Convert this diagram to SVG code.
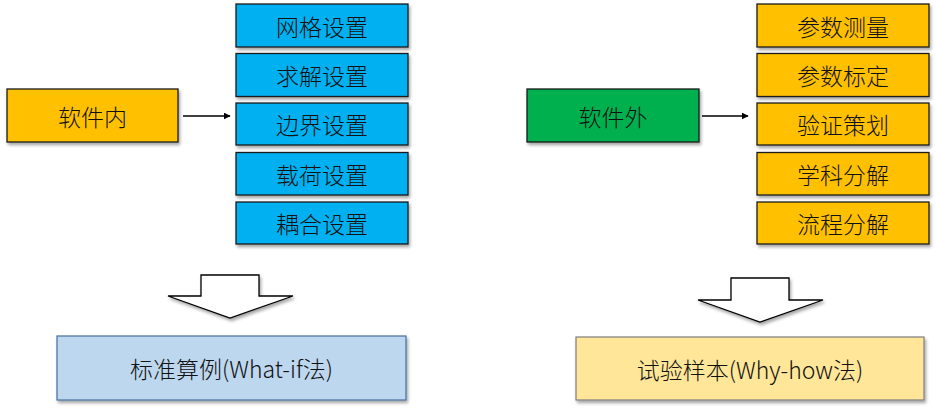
<svg xmlns="http://www.w3.org/2000/svg" width="936" height="411" viewBox="0 0 936 411">
<defs>
<filter id="sh" x="-10%" y="-10%" width="130%" height="140%">
<feDropShadow dx="1.5" dy="2.5" stdDeviation="1.5" flood-color="#000" flood-opacity="0.35"/>
</filter>
<marker id="ah" viewBox="0 0 10 10" refX="9" refY="5" markerWidth="7" markerHeight="7" orient="auto" markerUnits="userSpaceOnUse">
<path d="M0,0 L10,5 L0,10 z" fill="#000"/>
</marker>
<style>
.box{stroke:#1a1a1a;stroke-width:1.3;filter:url(#sh)}
.blue{fill:#00B0F0}
.orange{fill:#FFC000}
.green{fill:#00B050}
.t{font-family:"Noto Sans CJK SC","Liberation Sans",sans-serif;font-size:23px;font-weight:300;fill:#111;text-anchor:middle;dominant-baseline:central}
.bt{font-family:"Noto Sans CJK SC","Liberation Sans",sans-serif;font-size:23px;font-weight:300;fill:#111;text-anchor:middle;dominant-baseline:central}
.con{stroke:#000;stroke-width:1.6;fill:none}
.blk{fill:#fff;stroke:#000;stroke-width:1.3;filter:url(#sh)}
</style>
</defs>
<g id="n-inner"><rect class="box orange" x="7" y="89" width="171" height="53"/><text class="t" x="92.5" y="115.5">软件内</text></g>
<g id="n-mesh"><rect class="box blue" x="236" y="4" width="172" height="43"/><text class="t" x="322" y="25.5">网格设置</text></g>
<g id="n-solve"><rect class="box blue" x="236" y="53.5" width="172" height="43"/><text class="t" x="322" y="75">求解设置</text></g>
<g id="n-bound"><rect class="box blue" x="236" y="103" width="172" height="42"/><text class="t" x="322" y="124">边界设置</text></g>
<g id="n-load"><rect class="box blue" x="236" y="152.5" width="172" height="42.5"/><text class="t" x="322" y="173.5">载荷设置</text></g>
<g id="n-couple"><rect class="box blue" x="236" y="202" width="172" height="42"/><text class="t" x="322" y="223">耦合设置</text></g>
<g id="n-outer"><rect class="box green" x="527" y="89" width="172" height="53"/><text class="t" x="613" y="115.5">软件外</text></g>
<g id="n-meas"><rect class="box orange" x="757" y="4" width="172" height="43"/><text class="t" x="843" y="25.5">参数测量</text></g>
<g id="n-calib"><rect class="box orange" x="757" y="53.5" width="172" height="43"/><text class="t" x="843" y="75">参数标定</text></g>
<g id="n-verif"><rect class="box orange" x="757" y="103" width="172" height="42"/><text class="t" x="843" y="124">验证策划</text></g>
<g id="n-disc"><rect class="box orange" x="757" y="152.5" width="172" height="42.5"/><text class="t" x="843" y="173.5">学科分解</text></g>
<g id="n-flow"><rect class="box orange" x="757" y="202" width="172" height="42"/><text class="t" x="843" y="223">流程分解</text></g>
<g id="n-std"><rect x="57" y="336" width="349" height="64" fill="#BDD7EE" stroke="#41719C" stroke-width="1.2" filter="url(#sh)"/><text class="bt" x="231.5" y="368">标准算例(What-if法)</text></g>
<g id="n-test"><rect x="576" y="337" width="348" height="63" fill="#FFE699" stroke="#7F7F7F" stroke-width="1.2" filter="url(#sh)"/><text class="bt" x="750" y="368.5">试验样本(Why-how法)</text></g>
<g id="connectors">
<line class="con" x1="183" y1="116" x2="230" y2="116" marker-end="url(#ah)"/>
<line class="con" x1="702" y1="116" x2="748" y2="116" marker-end="url(#ah)"/>
<path class="blk" d="M201,275 L259,275 L259,296 L293,296 L230,318 L168,296 L201,296 Z"/>
<path class="blk" d="M731,278 L789,278 L789,300 L823,300 L760,322 L698,300 L731,300 Z"/>
</g>
</svg>
